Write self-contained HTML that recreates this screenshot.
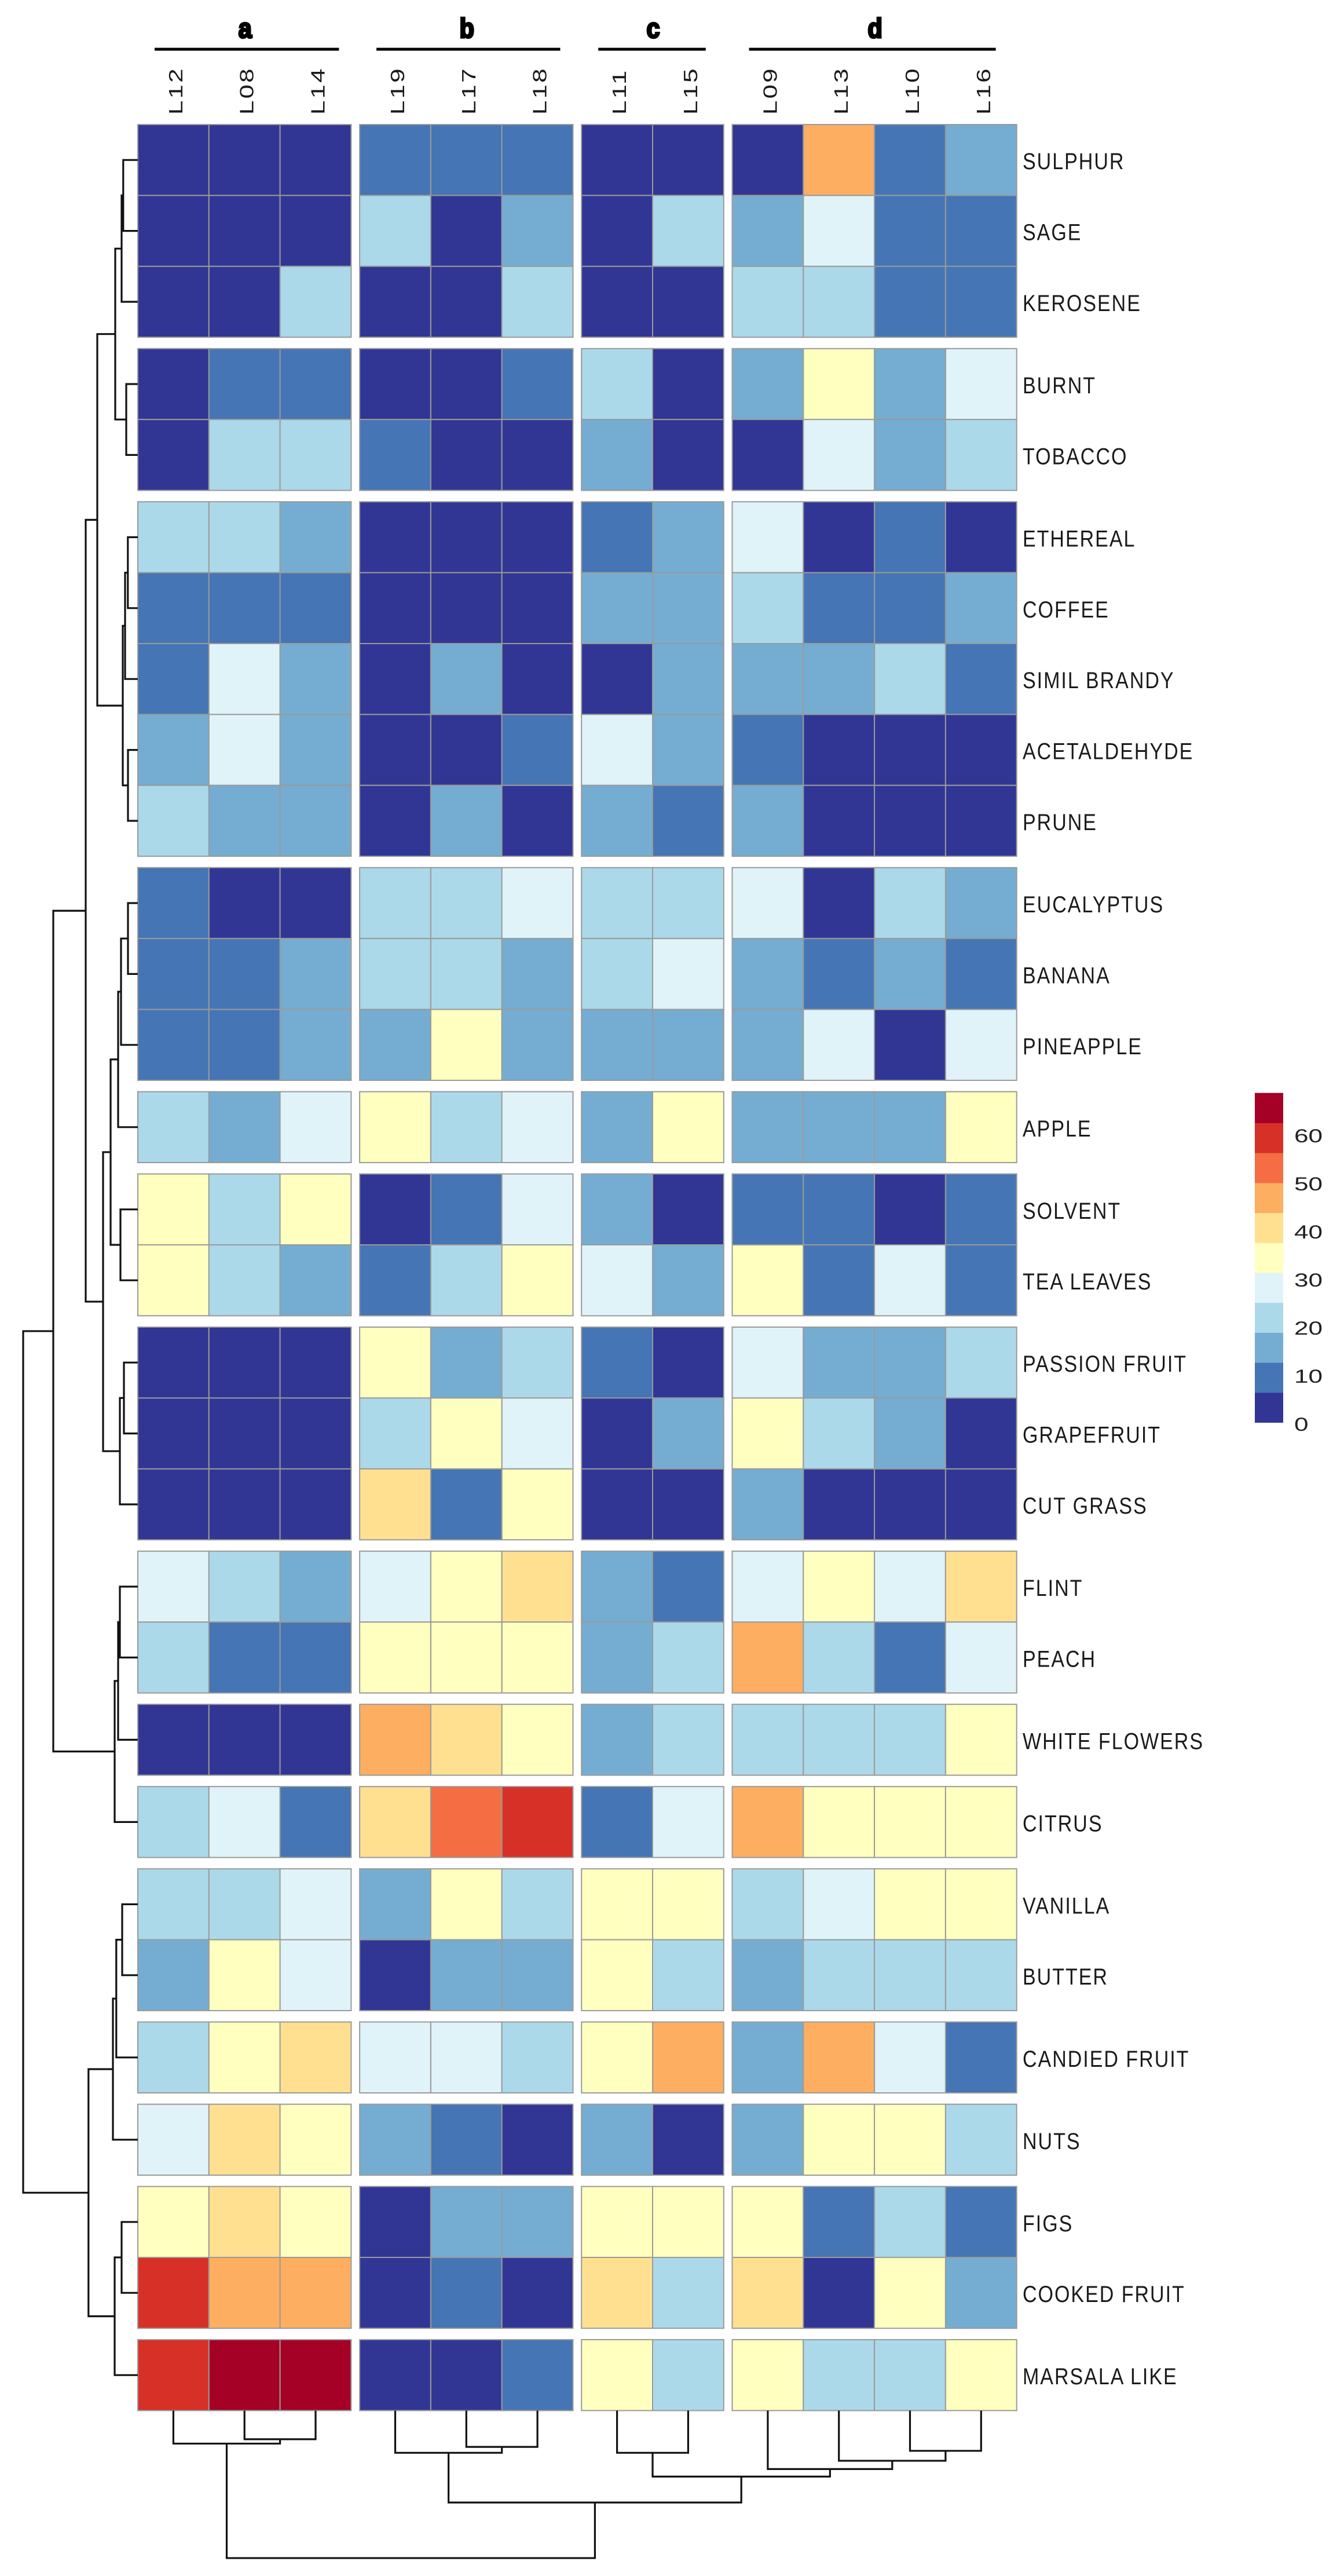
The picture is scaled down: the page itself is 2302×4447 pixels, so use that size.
<!DOCTYPE html>
<html lang="en">
<head>
<meta charset="utf-8">
<title>Aroma heatmap</title>
<style>
html,body{margin:0;padding:0;background:#fff;}
svg{display:block;}
text{font-family:"Liberation Sans",sans-serif;}
</style>
</head>
<body>
<svg id="chart" xmlns="http://www.w3.org/2000/svg" width="2302" height="4447" viewBox="0 0 2302 4447">
<rect x="0" y="0" width="2302" height="4447" fill="#fff"/>
</svg>
<script>
const rowLabels = ["SULPHUR","SAGE","KEROSENE","BURNT","TOBACCO","ETHEREAL","COFFEE","SIMIL BRANDY","ACETALDEHYDE","PRUNE","EUCALYPTUS","BANANA","PINEAPPLE","APPLE","SOLVENT","TEA LEAVES","PASSION FRUIT","GRAPEFRUIT","CUT GRASS","FLINT","PEACH","WHITE FLOWERS","CITRUS","VANILLA","BUTTER","CANDIED FRUIT","NUTS","FIGS","COOKED FRUIT","MARSALA LIKE"];
const rowBlockSizes = [3,2,5,3,1,2,3,2,1,1,2,1,1,2,1];
const columnLabels = ["L12","L08","L14","L19","L17","L18","L11","L15","L09","L13","L10","L16"];
const columnGroupNames = ["a","b","c","d"];
const columnGroupSizes = [3,3,2,4];
const cellValues = [
[3.5,3.5,3.5,10,10,10,3.5,3.5,3.5,47,10,16],
[3.5,3.5,3.5,22,3.5,16,3.5,22,16,28,10,10],
[3.5,3.5,22,3.5,3.5,22,3.5,3.5,22,22,10,10],
[3.5,10,10,3.5,3.5,10,22,3.5,16,35,16,28],
[3.5,22,22,10,3.5,3.5,16,3.5,3.5,28,16,22],
[22,22,16,3.5,3.5,3.5,10,16,28,3.5,10,3.5],
[10,10,10,3.5,3.5,3.5,16,16,22,10,10,16],
[10,28,16,3.5,16,3.5,3.5,16,16,16,22,10],
[16,28,16,3.5,3.5,10,28,16,10,3.5,3.5,3.5],
[22,16,16,3.5,16,3.5,16,10,16,3.5,3.5,3.5],
[10,3.5,3.5,22,22,28,22,22,28,3.5,22,16],
[10,10,16,22,22,16,22,28,16,10,16,10],
[10,10,16,16,35,16,16,16,16,28,3.5,28],
[22,16,28,35,22,28,16,35,16,16,16,35],
[35,22,35,3.5,10,28,16,3.5,10,10,3.5,10],
[35,22,16,10,22,35,28,16,35,10,28,10],
[3.5,3.5,3.5,35,16,22,10,3.5,28,16,16,22],
[3.5,3.5,3.5,22,35,28,3.5,16,35,22,16,3.5],
[3.5,3.5,3.5,41,10,35,3.5,3.5,16,3.5,3.5,3.5],
[28,22,16,28,35,41,16,10,28,35,28,41],
[22,10,10,35,35,35,16,22,47,22,10,28],
[3.5,3.5,3.5,47,41,35,16,22,22,22,22,35],
[22,28,10,41,53,60,10,28,47,35,35,35],
[22,22,28,16,35,22,35,35,22,28,35,35],
[16,35,28,3.5,16,16,35,22,16,22,22,22],
[22,35,41,28,28,22,35,47,16,47,28,10],
[28,41,35,16,10,3.5,16,3.5,16,35,35,22],
[35,41,35,3.5,16,16,35,35,35,10,22,10],
[60,47,47,3.5,10,3.5,41,22,41,3.5,35,16],
[60,66,66,3.5,3.5,10,35,22,35,22,22,35]
];
const legendColors = ["#313695","#4575b4","#74add1","#abd9e9","#e0f3f8","#ffffbf","#fee090","#fdae61","#f46d43","#d73027","#a50026"];
const legendTicks = [0,10,20,30,40,50,60];
const scaleMin = 0.35;
const scaleMax = 68.9;
/* Row tree: nested [left, right, height]; a bare number is a row index. */
const rowTree = [
 [
  [
   [[[[0,1,12.6],2,14],[3,4,10],19.5],[[[5,6,8.6],7,11],[8,9,8.5],13],35],
   [[[[[10,11,8.5],12,14.5],13,17],[14,15,15],23.5],[[16,17,12],18,15.5],30],
   45
  ],
  [[[19,20,15.5],21,17],22,20],
  73
 ],
 [[[[23,24,13.5],25,18.6],26,21.5],[[27,28,14],29,20],42.6],
 99
];
/* Column tree: same form; a bare number is a column index. */
const columnTree = [
 [[1,2,19],0,21.9],
 [[[4,5,24.1],3,28],[[6,7,28],[[[10,11,26.7],9,33.3],8,38.8],43.8],61],
 97.9
];

const SVG_NS = "http://www.w3.org/2000/svg";
const svg = document.getElementById("chart");
const cellW = 122.8, colGap = 14.7, gridLeft = 238;
const cellH = 122.4, rowGap = 19.6, gridTop = 215;

function make(tag, attrs){
  const el = document.createElementNS(SVG_NS, tag);
  for (const k in attrs) el.setAttribute(k, attrs[k]);
  svg.appendChild(el);
  return el;
}
function groupOfColumn(j){
  let sum = 0;
  for (let g = 0; g < columnGroupSizes.length; g++){ sum += columnGroupSizes[g]; if (j < sum) return g; }
  return columnGroupSizes.length - 1;
}
function blockOfRow(i){
  let sum = 0;
  for (let b = 0; b < rowBlockSizes.length; b++){ sum += rowBlockSizes[b]; if (i < sum) return b; }
  return rowBlockSizes.length - 1;
}
function colX(j){ return gridLeft + j * cellW + groupOfColumn(j) * colGap; }
function rowY(i){ return gridTop + i * cellH + blockOfRow(i) * rowGap; }
function colorOf(v){
  const n = legendColors.length;
  let k = Math.floor((v - scaleMin) / ((scaleMax - scaleMin) / n));
  k = Math.max(0, Math.min(n - 1, k));
  return legendColors[k];
}
function legendY(v){ return 2458.6 - v * 8.3; }
function rowHeightX(h){ return gridLeft - h * 2; }
function colHeightY(h){ return 4161.5 + h * 2.6; }

/* Heat cells */
cellValues.forEach(function(row, i){
  row.forEach(function(v, j){
    const cell = make("rect", {x: colX(j), y: rowY(i), width: cellW, height: cellH, fill: colorOf(v), stroke: "#9a9a9a", "stroke-width": 2});
    
    
  });
});

/* Row labels */
rowLabels.forEach(function(label, i){
  const t = make("text", {transform: "translate(1766," + (rowY(i) + cellH / 2 + 16) + ") scale(.85,1)", "font-size": 40, "letter-spacing": 2.35, fill: "#1a1a1a"});
  t.textContent = label;
  
  
});

/* Column labels */
columnLabels.forEach(function(label, j){
  const t = make("text", {transform: "translate(" + (colX(j) + cellW / 2 + 15.5) + ",198) rotate(-90) scale(1.33,1)", "font-size": 33, "letter-spacing": 2.4, fill: "#1a1a1a"});
  t.textContent = label;
  
  
});

/* Column group bars and letters */
columnGroupNames.forEach(function(name, g){
  let first = 0;
  for (let k = 0; k < g; k++) first += columnGroupSizes[k];
  const left = colX(first);
  const right = colX(first + columnGroupSizes[g] - 1) + cellW;
  const rightInset = g === 0 ? 21 : g === 1 ? 22 : g === 2 ? 31 : 36;
  const bar = make("rect", {x: left + 29, y: 82.5, width: right - left - 29 - rightInset, height: 5, fill: "#000"});
  
  
  const t = make("text", {transform: "translate(" + ((left + right) / 2 + 1) + ",65) scale(.88,1)", "font-size": 47, "font-weight": "bold", "text-anchor": "middle", fill: "#000", stroke: "#000", "stroke-width": 3.5});
  t.textContent = name;
  
  
});

/* Dendrograms */
function drawLine(d, name){
  const p = make("path", {d: d, fill: "none", stroke: "#111", "stroke-width": 3.2, "stroke-linejoin": "miter"});
  
  
}
function rowNode(node){
  if (typeof node === "number") return {y: rowY(node) + cellH / 2, x: gridLeft};
  const a = rowNode(node[0]), b = rowNode(node[1]), x = rowHeightX(node[2]);
  drawLine("M" + a.x + " " + a.y + "H" + x + "V" + b.y + "H" + b.x, "row-dendrogram-branch");
  return {y: (a.y + b.y) / 2, x: x};
}
function colNode(node){
  if (typeof node === "number") return {x: colX(node) + cellW / 2, y: colHeightY(0)};
  const a = colNode(node[0]), b = colNode(node[1]), y = colHeightY(node[2]);
  drawLine("M" + a.x + " " + a.y + "V" + y + "H" + b.x + "V" + b.y, "column-dendrogram-branch");
  return {x: (a.x + b.x) / 2, y: y};
}
rowNode(rowTree);
colNode(columnTree);

/* Legend */
const legendBinH = (legendY(scaleMin) - legendY(scaleMax)) / legendColors.length;
legendColors.forEach(function(c, k){
  const r = make("rect", {x: 2167, y: legendY(scaleMin) - (k + 1) * legendBinH, width: 49, height: legendBinH + 0.4, fill: c});
  
  
});
legendTicks.forEach(function(v){
  const t = make("text", {transform: "translate(2235," + (legendY(v) + 11.5) + ") scale(1.38,1)", "font-size": 32, fill: "#222"});
  t.textContent = String(v);
  
  
});
</script>
</body>
</html>
